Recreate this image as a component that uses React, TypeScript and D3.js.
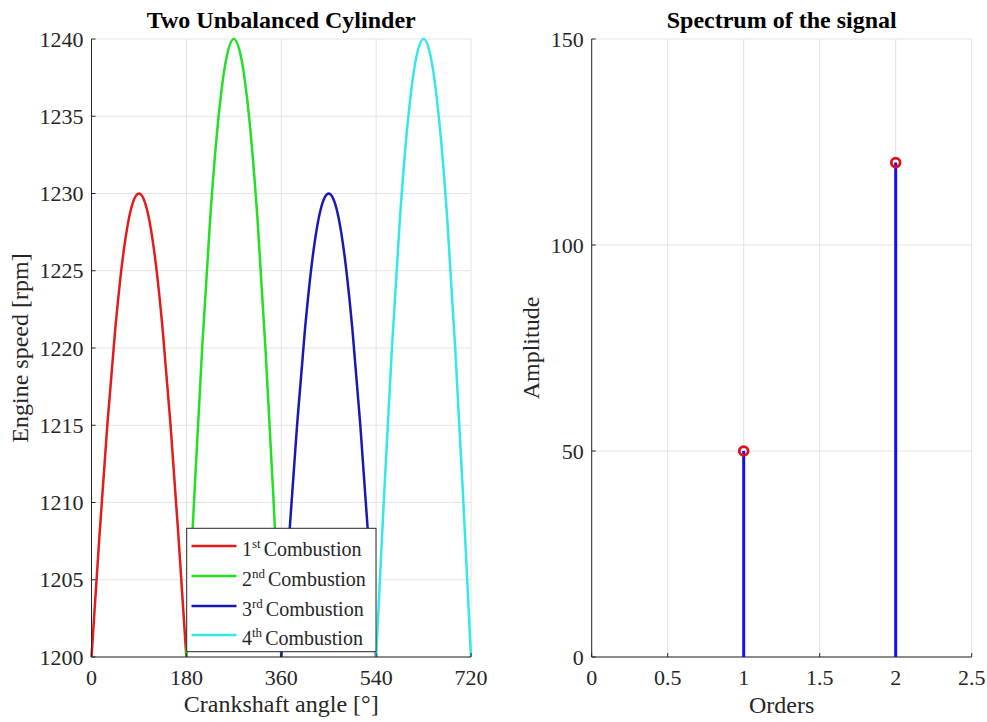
import React from 'react';
import * as d3 from 'd3';

// crankshaft angle samples within one combustion stroke (deg)
const strokeAngles = [0, 15, 30, 45, 60, 75, 90, 105, 120, 135, 150, 165, 180];
const strokeStart = [0, 180, 360, 540];
const comb1 = [1200, 1207.8, 1215, 1221.2, 1226, 1229, 1230, 1229, 1226, 1221.2, 1215, 1207.8, 1200];
const comb2 = [1200, 1210.4, 1220, 1228.3, 1234.6, 1238.6, 1240, 1238.6, 1234.6, 1228.3, 1220, 1210.4, 1200];
const comb3 = [1200, 1207.8, 1215, 1221.2, 1226, 1229, 1230, 1229, 1226, 1221.2, 1215, 1207.8, 1200];
const comb4 = [1200, 1210.4, 1220, 1228.3, 1234.6, 1238.6, 1240, 1238.6, 1234.6, 1228.3, 1220, 1210.4, 1200];
const combColors = ['#e41a1c', '#22e022', '#1818b8', '#33e8e8'];
const combNum = ['1', '2', '3', '4'];
const combSup = ['st', 'nd', 'rd', 'th'];

const angleTicks = [0, 180, 360, 540, 720];
const speedTicks = [1200, 1205, 1210, 1215, 1220, 1225, 1230, 1235, 1240];

const orders = [1, 2];
const amplitudes = [50, 120];
const orderTicks = [0, 0.5, 1, 1.5, 2, 2.5];
const ampTicks = [0, 50, 100, 150];

const W = 987;
const H = 722;
const top = 39;
const bottom = 657;
const axisCol = '#262626';
const gridCol = '#e3e3e3';
const font = '"Liberation Serif", "Times New Roman", serif';

export default function App() {
  const x1 = d3.scaleLinear().domain([0, 720]).range([91.5, 471]);
  const y1 = d3.scaleLinear().domain([1200, 1240]).range([bottom, top]);
  const x2 = d3.scaleLinear().domain([0, 2.5]).range([591.7, 971.7]);
  const y2 = d3.scaleLinear().domain([0, 150]).range([bottom, top]);

  const series = [comb1, comb2, comb3, comb4];
  const line = d3.line<[number, number]>()
    .x((d) => x1(d[0]))
    .y((d) => y1(d[1]))
    .curve(d3.curveMonotoneX);

  const legX = 186.7;
  const legY = 528.3;
  const legW = 189.3;
  const legH = 123.4;
  const rowY = [556, 586, 616, 645];

  return (
    <svg width={W} height={H} style={{ position: 'absolute', left: 0, top: 0, background: '#fff' }}
      fontFamily={font}>
      <rect width={W} height={H} fill="#fff" />

      {/* left plot */}
      <g>
        {angleTicks.map((t) => (
          <line key={'gx' + t} x1={x1(t)} x2={x1(t)} y1={top} y2={bottom} stroke={gridCol} />
        ))}
        {speedTicks.map((t) => (
          <line key={'gy' + t} x1={x1(0)} x2={x1(720)} y1={y1(t)} y2={y1(t)} stroke={gridCol} />
        ))}
        {series.map((s, i) => (
          <path key={'c' + i} fill="none" stroke={combColors[i]} strokeWidth={2.5}
            d={line(strokeAngles.map((a, j) => [a + strokeStart[i], s[j]]) as [number, number][]) || ''} />
        ))}
        <line x1={x1(0)} x2={x1(0)} y1={top} y2={bottom} stroke={axisCol} />
        <line x1={x1(0)} x2={x1(720)} y1={bottom} y2={bottom} stroke={axisCol} />
        {speedTicks.map((t) => (
          <g key={'ty' + t}>
            <line x1={x1(0)} x2={x1(0) + 4} y1={y1(t)} y2={y1(t)} stroke={axisCol} />
            <text x={x1(0) - 8} y={y1(t)} dy="0.35em" textAnchor="end" fontSize={22} fill={axisCol}>{t}</text>
          </g>
        ))}
        {angleTicks.map((t) => (
          <g key={'tx' + t}>
            <line x1={x1(t)} x2={x1(t)} y1={bottom} y2={bottom - 4} stroke={axisCol} />
            <text x={x1(t)} y={bottom + 28} textAnchor="middle" fontSize={22} fill={axisCol}>{t}</text>
          </g>
        ))}
        <text x={(x1(0) + x1(720)) / 2} y={28} textAnchor="middle" fontSize={24} fontWeight="bold" fill="#000">
          Two Unbalanced Cylinder
        </text>
        <text x={(x1(0) + x1(720)) / 2} y={712} textAnchor="middle" fontSize={24} fill={axisCol}>
          Crankshaft angle [°]
        </text>
        <text transform={`translate(28,${(top + bottom) / 2}) rotate(-90)`} textAnchor="middle" fontSize={24} fill={axisCol}>
          Engine speed [rpm]
        </text>

        {/* legend */}
        <rect x={legX} y={legY} width={legW} height={legH} fill="#fff" stroke={axisCol} />
        {combNum.map((n, i) => (
          <g key={'l' + i}>
            <line x1={191.5} x2={236.5} y1={rowY[i] - 10} y2={rowY[i] - 10} stroke={combColors[i]} strokeWidth={2.5} />
            <text x={242} y={rowY[i]} fontSize={20} fill={axisCol}>
              {n}
              <tspan dy={-8} fontSize={13}>{combSup[i]}</tspan>
              <tspan dy={8} dx={3}>Combustion</tspan>
            </text>
          </g>
        ))}
      </g>

      {/* right plot */}
      <g>
        {orderTicks.map((t) => (
          <line key={'gx2' + t} x1={x2(t)} x2={x2(t)} y1={top} y2={bottom} stroke={gridCol} />
        ))}
        {ampTicks.map((t) => (
          <line key={'gy2' + t} x1={x2(0)} x2={x2(2.5)} y1={y2(t)} y2={y2(t)} stroke={gridCol} />
        ))}
        <line x1={x2(0)} x2={x2(0)} y1={top} y2={bottom} stroke={axisCol} />
        <line x1={x2(0)} x2={x2(2.5)} y1={bottom} y2={bottom} stroke={axisCol} />
        {ampTicks.map((t) => (
          <g key={'ty2' + t}>
            <line x1={x2(0)} x2={x2(0) + 4} y1={y2(t)} y2={y2(t)} stroke={axisCol} />
            <text x={x2(0) - 8} y={y2(t)} dy="0.35em" textAnchor="end" fontSize={22} fill={axisCol}>{t}</text>
          </g>
        ))}
        {orderTicks.map((t) => (
          <g key={'tx2' + t}>
            <line x1={x2(t)} x2={x2(t)} y1={bottom} y2={bottom - 4} stroke={axisCol} />
            <text x={x2(t)} y={bottom + 28} textAnchor="middle" fontSize={22} fill={axisCol}>{t}</text>
          </g>
        ))}
        {orders.map((o, i) => (
          <g key={'s' + i}>
            <line x1={x2(o)} x2={x2(o)} y1={y2(0)} y2={y2(amplitudes[i])} stroke="#1010f0" strokeWidth={3} />
            <circle cx={x2(o)} cy={y2(amplitudes[i])} r={4.4} fill="none" stroke="#e0101a" strokeWidth={2.8} />
          </g>
        ))}
        <text x={(x2(0) + x2(2.5)) / 2} y={28} textAnchor="middle" fontSize={24} fontWeight="bold" fill="#000">
          Spectrum of the signal
        </text>
        <text x={(x2(0) + x2(2.5)) / 2} y={713} textAnchor="middle" fontSize={24} fill={axisCol}>
          Orders
        </text>
        <text transform={`translate(539,${(top + bottom) / 2}) rotate(-90)`} textAnchor="middle" fontSize={24} fill={axisCol}>
          Amplitude
        </text>
      </g>
    </svg>
  );
}
